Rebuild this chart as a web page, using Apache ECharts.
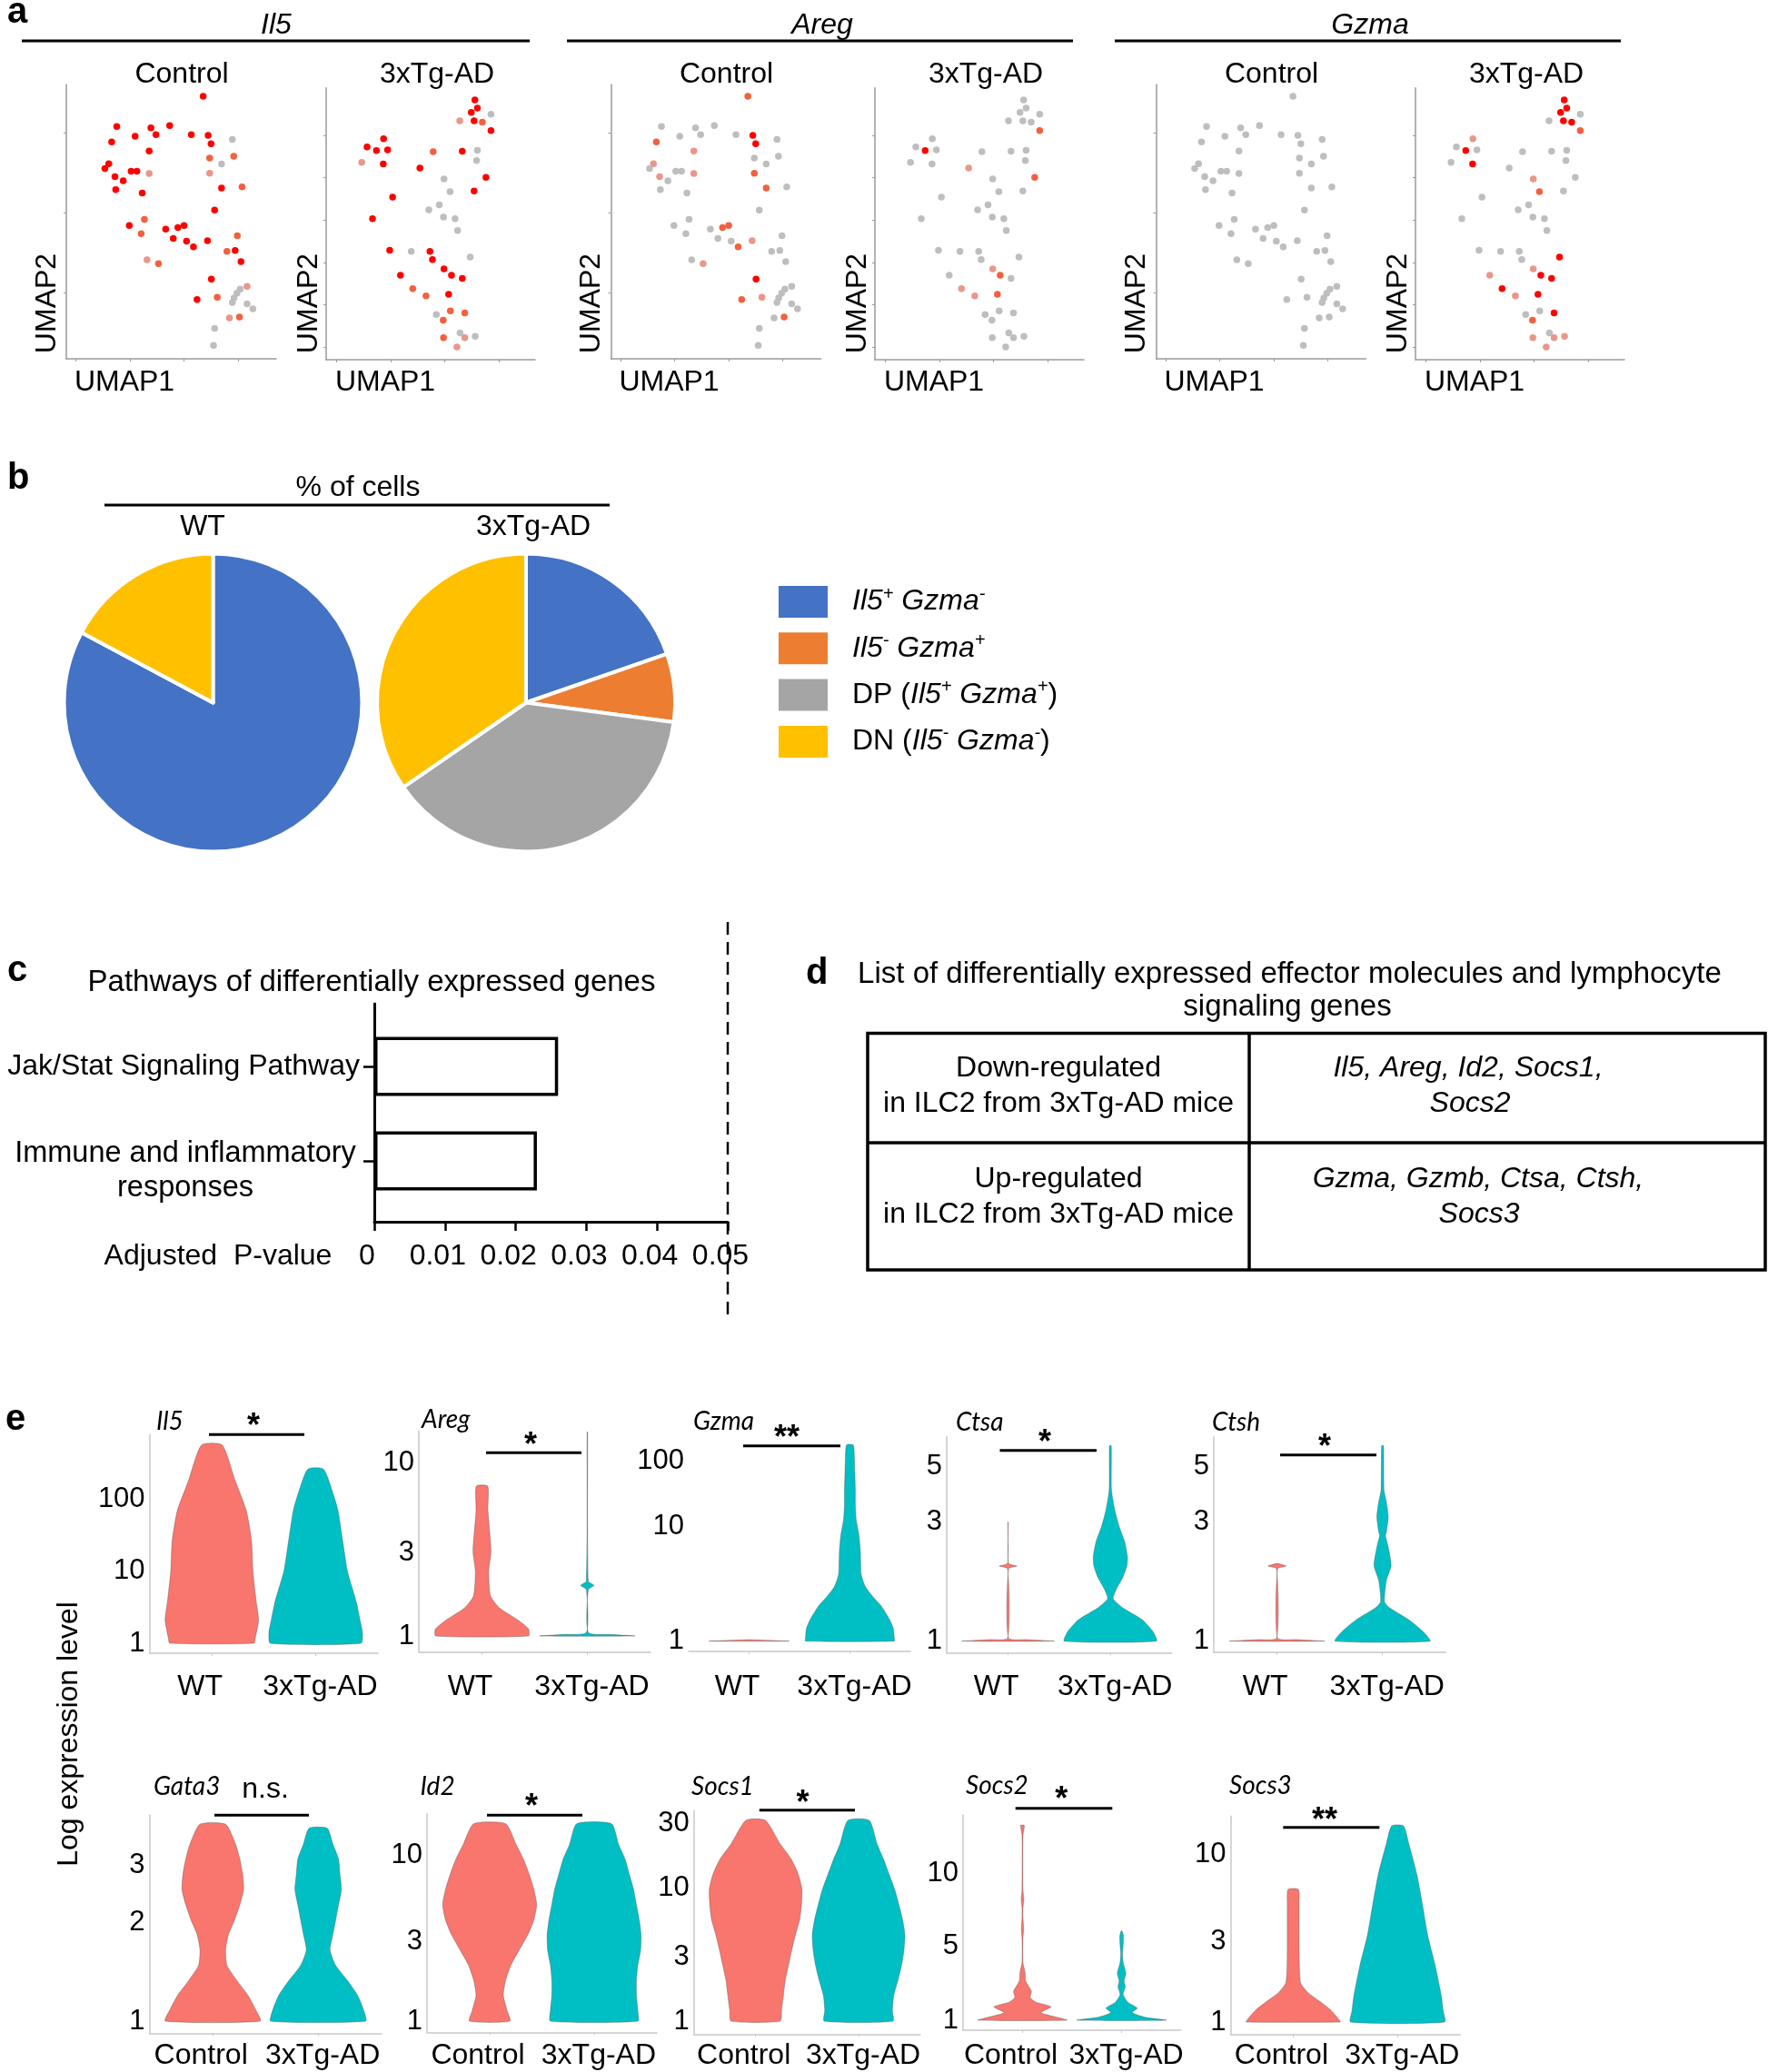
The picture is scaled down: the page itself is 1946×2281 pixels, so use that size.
<!DOCTYPE html>
<html>
<head>
<meta charset="utf-8">
<title>ILC2 figure</title>
<script src="https://cdn.jsdelivr.net/npm/echarts@6.0.0/dist/echarts.min.js"></script>
<style>
html,body{margin:0;padding:0;background:#ffffff;}
#chart{width:1946px;height:2281px;}
</style>
</head>
<body>
<div id="chart"></div>
<script>
// ======================= DATA =======================
// ---- Panel a: UMAP embeddings (same cells in every gene panel) ----
const ctrlUMAP1 = [6.77,-1.23,1.93,3.67,0.47,2.4,5.67,7.23,9.47,-1.7,7.5,1.77,7.37,9.6,8.47,-1.97,-2.33,0.1,0.63,1.77,7.37,-1.4,-0.63,-1.33,1.13,8.47,10.37,7.83,1.33,-0.07,3.3,4.43,5.0,1.03,9.93,4.0,5.23,5.87,7.17,8.97,9.73,10.27,1.57,2.63,7.53,6.2,8.07,10.83,10.2,9.9,9.63,9.47,10.83,11.37,9.2,10.13,7.83,7.73];
const ctrlUMAP2 = [12.26,10.38,10.30,10.43,9.77,9.87,9.87,9.83,9.58,9.42,9.30,8.85,8.42,8.53,8.04,8.06,7.77,7.60,7.60,7.45,7.47,7.25,7.0,6.45,6.23,6.55,6.62,5.17,4.6,4.21,3.98,4.08,4.21,3.70,3.57,3.40,3.23,2.89,3.26,2.60,2.66,1.96,2.08,1.83,0.87,-0.40,-0.26,0.42,0.25,0.0,-0.30,-0.58,-0.66,-0.98,-1.55,-1.49,-2.19,-3.25];
const adUMAP1 = [7.76,7.99,7.43,9.24,6.37,7.69,8.45,9.24,-0.63,-2.15,-1.29,-0.26,3.93,6.6,7.99,-2.64,-0.66,7.92,2.71,8.78,4.92,5.48,7.69,0.2,4.49,3.53,-1.65,4.88,5.94,6.17,-0.07,1.91,3.63,3.86,7.33,4.92,5.61,0.92,6.6,2.05,3.27,5.35,5.51,6.83,4.22,4.85,6.4,4.88,6.83,7.79,6.11];
const adUMAP2 = [14.18,13.21,12.71,12.5,11.71,11.71,11.57,10.57,9.61,8.64,8.21,8.29,8.07,8.14,8.25,6.82,6.64,7.04,6.14,5.04,4.86,3.36,3.43,2.71,1.82,1.21,0.18,0.36,0.18,-1.21,-3.54,-3.68,-3.68,-4.64,-4.36,-5.75,-6.5,-6.5,-6.86,-8.07,-8.93,-8.75,-10.71,-10.93,-11.14,-11.79,-13.29,-13.86,-13.86,-13.71,-14.96];
// expression class per cell: 0 none, 1 low, 2 mid, 3 high
const il5CtrlLevel  = [3,3,3,3,3,3,3,3,0,3, 3,3,2,2,0,3,3,3,3,1, 1,3,3,3,3,3,2,3,2,3, 3,3,3,2,2,3,3,3,3,2, 3,3,1,2,3,3,2,1,0,0, 0,0,0,0,1,2,0,0];
const il5ADLevel    = [3,3,3,0,1,3,2,3,3,3, 3,3,2,3,0,1,3,0,3,3, 0,0,3,3,0,0,3,0,0,0, 3,0,3,3,0,3,3,3,3,2, 2,3,2,2,0,2,0,2,1,0, 1];
const aregCtrlLevel = [2,0,0,0,0,0,0,3,0,2, 3,1,0,0,0,1,0,0,0,1, 2,1,0,0,0,2,0,0,0,0, 0,2,2,0,0,0,0,2,1,0, 0,0,0,1,3,2,1,0,0,0, 0,0,0,0,0,2,0,0];
const aregADLevel   = [0,0,0,0,0,0,0,2,0,0, 3,0,0,0,0,0,0,0,1,2, 0,0,0,0,0,0,0,0,0,0, 0,0,0,0,0,1,2,0,0,1, 1,2,0,0,0,0,0,0,0,0, 0];
const gzmaCtrlLevel = [0,0,0,0,0,0,0,0,0,0, 0,0,0,0,0,0,0,0,0,0, 0,0,0,0,0,0,0,0,0,0, 0,0,0,0,0,0,0,0,0,0, 0,0,0,0,0,0,0,0,0,0, 0,0,0,0,0,0,0,0];
const gzmaADLevel   = [3,3,3,0,0,3,3,2,1,0, 3,0,0,0,0,0,3,0,0,0, 1,2,0,0,0,0,0,0,0,0, 0,0,0,0,3,1,3,1,3,3, 1,3,0,3,0,2,0,1,1,1, 1];
const umapGenes = ['Il5', 'Areg', 'Gzma'];
const umapGroups = ['Control', '3xTg-AD'];
const umapXTicks = [-5, 0, 5, 10];
const umapCtrlYTicks = [0, 5, 10];
const umapADYTicks = [-15, -10, -5, 0, 5, 10];

// ---- Panel b: % of cells ----
const pieCategories = ['Il5+ Gzma-', 'Il5- Gzma+', 'DP (Il5+ Gzma+)', 'DN (Il5- Gzma-)'];
const pieGroups = ['WT', '3xTg-AD'];
const pieWT = [82.8, 0, 0, 17.2];
const pieAD = [19.7, 7.4, 38.3, 34.6];

// ---- Panel c: pathways ----
const pathways = ['Jak/Stat Signaling Pathway', 'Immune and inflammatory\nresponses'];
const adjPValues = [0.026, 0.023];
const pThreshold = 0.05;

// ---- Panel d: table ----
const tableRowLabels = [['Down-regulated', 'in ILC2 from 3xTg-AD mice'], ['Up-regulated', 'in ILC2 from 3xTg-AD mice']];
const tableGeneLists = [['Il5, Areg, Id2, Socs1,', 'Socs2'], ['Gzma, Gzmb, Ctsa, Ctsh,', 'Socs3']];

// ---- Panel e: violin plots ----
const violinGenes = ['Il5', 'Areg', 'Gzma', 'Ctsa', 'Ctsh', 'Gata3', 'Id2', 'Socs1', 'Socs2', 'Socs3'];
const violinSignif = ['*', '*', '**', '*', '*', 'n.s.', '*', '*', '*', '**'];
const violinGroupsRow1 = ['WT', '3xTg-AD'];
const violinGroupsRow2 = ['Control', '3xTg-AD'];
const violinYTicks = [[1,10,100],[1,3,10],[1,10,100],[1,3,5],[1,3,5],[1,2,3],[1,3,10],[1,3,10,30],[1,5,10],[1,3,10]];
// violin outlines: [expression value, relative half-width]
const il5WTProfile   = [[1,0.9],[1.18,0.93],[2.1,1.0],[3.75,0.95],[10,0.88],[26,0.85],[68,0.74],[178,0.5],[557,0.22]];
const il5ADProfile   = [[1,0.97],[1.43,1.0],[2.1,0.95],[3.75,0.87],[10,0.68],[26,0.58],[68,0.48],[110,0.39],[257,0.17]];
const aregWTProfile  = [[1,0.98],[1.1,0.98],[1.24,0.75],[1.45,0.37],[1.7,0.18],[2.35,0.14],[3.1,0.19],[5.3,0.125],[7.3,0.12]];
const aregADProfile  = [[1,1.0],[1.02,0.5],[1.05,0.02],[1.85,0.02],[1.96,0.14],[2.07,0.02],[15,0.005]];
const gzmaWTProfile  = [[1,0.88],[1.03,0.01]];
const gzmaADProfile  = [[1,0.98],[1.06,0.98],[1.28,0.96],[1.53,0.88],[1.84,0.76],[2.07,0.67],[2.48,0.49],[2.98,0.34],[3.79,0.25],[4.55,0.24],[6.15,0.23],[8.34,0.2],[12.4,0.14],[21.1,0.12],[36,0.12],[61.5,0.11],[104,0.1],[174,0.075]];
const ctsaWTProfile  = [[1,1.0],[1.015,0.4],[1.03,0.01],[1.95,0.01],[2.0,0.19],[2.05,0.01],[3.0,0.005]];
const ctsaADProfile  = [[1,1.0],[1.09,0.93],[1.22,0.69],[1.36,0.27],[1.48,0.06],[1.61,0.125],[1.8,0.27],[2.01,0.36],[2.19,0.37],[2.51,0.31],[2.89,0.19],[3.33,0.1],[4.05,0.025],[6.07,0.02]];
const ctshWTProfile  = [[1,1.0],[1.015,0.4],[1.03,0.01],[1.95,0.01],[2.0,0.19],[2.05,0.005]];
const ctshADProfile  = [[1,1.0],[1.09,0.86],[1.22,0.55],[1.36,0.15],[1.44,0.04],[1.75,0.08],[2.01,0.18],[2.38,0.12],[2.66,0.06],[2.73,0.08],[3.15,0.12],[3.62,0.08],[4.05,0.03],[6.07,0.02]];
const gata3CtrlProfile = [[1.0,1.0],[1.08,0.91],[1.2,0.74],[1.33,0.51],[1.48,0.3],[1.65,0.27],[1.84,0.33],[2.04,0.46],[2.27,0.57],[2.53,0.65],[2.81,0.63],[3.13,0.57],[3.48,0.48],[4.0,0.27]];
const gata3ADProfile   = [[1.0,1.0],[1.08,0.96],[1.2,0.83],[1.33,0.62],[1.48,0.37],[1.65,0.25],[1.84,0.31],[2.04,0.37],[2.27,0.43],[2.53,0.49],[2.81,0.46],[3.13,0.43],[3.48,0.31],[3.89,0.19]];
const id2CtrlProfile   = [[1.0,0.43],[1.16,0.37],[1.43,0.29],[1.76,0.34],[2.17,0.45],[2.68,0.63],[3.3,0.81],[4.07,0.94],[5.02,1.0],[6.2,0.94],[7.65,0.84],[9.42,0.72],[11.6,0.56],[15.4,0.34]];
const id2ADProfile     = [[1.0,0.93],[1.16,0.93],[1.43,0.9],[1.76,0.9],[2.17,0.93],[2.68,0.99],[3.3,1.0],[4.07,0.96],[5.02,0.9],[6.2,0.84],[7.65,0.75],[9.42,0.66],[11.6,0.52],[15.4,0.37]];
const socs1CtrlProfile = [[1.0,0.53],[1.2,0.56],[1.56,0.6],[2.02,0.64],[2.63,0.71],[3.41,0.78],[4.43,0.86],[5.75,0.95],[7.46,0.99],[9.69,1.0],[12.6,0.92],[16.3,0.77],[21.2,0.53],[31.9,0.21]];
const socs1ADProfile   = [[1.0,0.74],[1.2,0.73],[1.56,0.76],[2.02,0.85],[2.63,0.93],[3.41,0.98],[4.43,1.0],[5.75,0.95],[7.46,0.87],[9.69,0.78],[12.6,0.66],[16.3,0.54],[21.2,0.4],[31.9,0.23]];
const socs2CtrlProfile = [[1,1.0],[1.07,0.75],[1.18,0.41],[1.34,0.64],[1.48,0.3],[1.64,0.17],[1.87,0.2],[2.35,0.07],[2.86,0.055],[3.49,0.01],[5.38,0.01],[5.87,0.025],[6.58,0.01],[7.17,0.01],[7.82,0.03],[8.53,0.01],[14.3,0.01],[15.8,0.04]];
const socs2ADProfile   = [[1,1.0],[1.07,0.51],[1.18,0.24],[1.3,0.35],[1.48,0.14],[1.75,0.035],[2.06,0.08],[2.35,0.055],[2.77,0.096],[3.49,0.035],[4.25,0.02],[5.08,0.035],[5.53,0.04],[5.78,0.01]];
const socs3CtrlProfile = [[1.0,1.0],[1.03,0.98],[1.17,0.81],[1.33,0.56],[1.5,0.31],[1.7,0.16],[2.18,0.13],[3.3,0.125],[5.0,0.125],[6.15,0.11]];
const socs3ADProfile   = [[1.0,1.0],[1.17,0.97],[1.44,0.93],[2.18,0.8],[3.3,0.64],[5.0,0.53],[7.57,0.41],[11.5,0.24],[14.7,0.125]];

// ======================= STYLE / LAYOUT =======================
const FONT = "'Liberation Sans', Arial, Helvetica, sans-serif";
const GENE_FONT = "Lato, 'Open Sans', sans-serif";
const LEVEL_COLORS = ['#BEBEBE', '#E8978A', '#F3603F', '#FF0000'];
const PIE_COLORS = ['#4472C4', '#ED7D31', '#A5A5A5', '#FFC000'];
const SALMON = '#F8766D', TEAL = '#00BFC4';
const UMAP_AXIS = '#9A9A9A', VIOLIN_AXIS = '#C8C8C8';
const VIOLIN_HALF = 0.45;

const umapLayout = [
  [{left: 73, top: 93.3, width: 231, height: 301.7}, {left: 359, top: 96.7, width: 230, height: 299.3}],
  [{left: 672.5, top: 93.3, width: 231, height: 301.7}, {left: 963, top: 96.7, width: 230, height: 299.3}],
  [{left: 1272.5, top: 93.3, width: 231, height: 301.7}, {left: 1558, top: 96.7, width: 230, height: 299.3}]
];
const umapRange = [{x: [-5.9, 13.53], y: [-4.09, 12.98]}, {x: [-5.91, 13.3], y: [-16.46, 15.61]}];

// axis scale knots (log10 unless bent)
const violinScaleKnots = [null, null, [[1,0],[10,1],[100,1.568]], null, null, null, null, null, [[1,0],[5,0.699],[10,1.385]], null];
const violinLayout = [
  {l: 164.6, r: 416,    t: 1579,   b: 1820,   p1: 1809,   k: 79.5,  m: 21},
  {l: 461,   r: 716,    t: 1575,   b: 1819,   p1: 1801,   k: 191,   m: 22},
  {l: 758,   r: 1002,   t: 1580,   b: 1817.7, p1: 1806.7, k: 126.7, m: 23, noYLine: true},
  {l: 1042,  r: 1289.7, t: 1581.7, b: 1819.3, p1: 1806.7, k: 274.6, m: 22},
  {l: 1336,  r: 1591.4, t: 1581.7, b: 1819,   p1: 1806.7, k: 274.6, m: 22},
  {l: 164.6, r: 419.8,  t: 1998.3, b: 2238.3, p1: 2225,   k: 360,   m: 9},
  {l: 470,   r: 722.9,  t: 1996.7, b: 2237.3, p1: 2225,   k: 183,   m: 10},
  {l: 763.7, r: 1013,   t: 1993.3, b: 2239.3, p1: 2225,   k: 147,   m: 8},
  {l: 1060,  r: 1300,   t: 1998.3, b: 2235,   p1: 2224,   k: 116.7, m: 12},
  {l: 1354.5,r: 1607.2, t: 1999.3, b: 2240,   p1: 2226,   k: 185,   m: 7}
];
const geneNamePos = [[172,1565],[464,1563],[763,1565],[1052,1566],[1334,1566],[169,1967],[462.5,1967],[761,1967],[1063,1966],[1353,1966]];
const sigBarPos = [[230,335,1579.3],[535,640,1599.3],[818,925,1591.7],[1100.5,1207,1596.7],[1409,1515,1601.7],[236,340,1998.3],[536,641,1998.3],[835.8,941,1992.7],[1117.7,1224.3,1990.7],[1412.3,1518.3,2011.7]];
const sigTextPos = [[279,1571],[584,1592],[866,1584],[1150,1589],[1458,1594],[292,1970],[585,1990],[883.6,1986],[1168.3,1982],[1458,2005]];

const violinProfiles = [
  [il5WTProfile, il5ADProfile], [aregWTProfile, aregADProfile], [gzmaWTProfile, gzmaADProfile],
  [ctsaWTProfile, ctsaADProfile], [ctshWTProfile, ctshADProfile],
  [gata3CtrlProfile, gata3ADProfile], [id2CtrlProfile, id2ADProfile], [socs1CtrlProfile, socs1ADProfile],
  [socs2CtrlProfile, socs2ADProfile], [socs3CtrlProfile, socs3ADProfile]
];

function makeScale(knots) {
  const K = (knots || [[1, 0], [10, 1]]).map(function (p) { return [Math.log10(p[0]), p[1]]; });
  return function (v) {
    const L = Math.log10(v);
    let i = 0;
    while (i < K.length - 2 && L > K[i + 1][0]) i++;
    const a = K[i], b = K[i + 1];
    return a[1] + (L - a[0]) * (b[1] - a[1]) / (b[0] - a[0]);
  };
}

// ======================= BUILD =======================
const grids = [], xAxes = [], yAxes = [], series = [], gfx = [];

function txt(x, y, text, o) {
  o = o || {};
  const al = o.align || 'center';
  return {type: 'text', x: x, y: y, rotation: o.rot || 0, silent: true, z: 100,
    style: {text: text, fontSize: o.size || 32, fontFamily: o.family || FONT,
      fontStyle: o.italic ? 'italic' : 'normal', fontWeight: o.bold ? 'bold' : 'normal',
      fill: '#000', align: al, verticalAlign: 'middle', textAlign: al, textVerticalAlign: 'middle'}};
}
function seg(x1, y1, x2, y2, w, color) {
  return {type: 'line', silent: true, z: 100, shape: {x1: x1, y1: y1, x2: x2, y2: y2}, style: {stroke: color || '#000', lineWidth: w || 3}};
}

// ---- Panel a ----
const umapLevels = [[il5CtrlLevel, il5ADLevel], [aregCtrlLevel, aregADLevel], [gzmaCtrlLevel, gzmaADLevel]];
umapGenes.forEach(function (gene, g) {
  [0, 1].forEach(function (s) {
    const gi = grids.length;
    const lay = umapLayout[g][s], rng = umapRange[s];
    grids.push({left: lay.left, top: lay.top, width: lay.width, height: lay.height, containLabel: false, outerBoundsMode: 'none'});
    const axLine = {show: true, onZero: false, lineStyle: {color: UMAP_AXIS, width: 1.5}};
    xAxes.push({gridIndex: gi, type: 'value', min: rng.x[0], max: rng.x[1], axisLine: axLine,
      axisTick: {show: true, customValues: umapXTicks, length: 3, lineStyle: {color: UMAP_AXIS, width: 1}},
      axisLabel: {show: false}, splitLine: {show: false}});
    yAxes.push({gridIndex: gi, type: 'value', min: rng.y[0], max: rng.y[1], axisLine: axLine,
      axisTick: {show: true, customValues: s ? umapADYTicks : umapCtrlYTicks, length: 3, lineStyle: {color: UMAP_AXIS, width: 1}},
      axisLabel: {show: false}, splitLine: {show: false}});
    const xs = s ? adUMAP1 : ctrlUMAP1, ys = s ? adUMAP2 : ctrlUMAP2, lv = umapLevels[g][s];
    series.push({type: 'scatter', xAxisIndex: gi, yAxisIndex: gi, symbol: 'circle', symbolSize: 7.5, silent: true,
      data: xs.map(function (x, i) { return [x, ys[i], lv[i]]; }),
      itemStyle: {opacity: 1, color: function (p) { return LEVEL_COLORS[p.value[2]]; }}});
    // group title + axis names
    gfx.push(txt(lay.left + (s ? 122 : 127), 82, umapGroups[s]));
    gfx.push(txt(lay.left + (s ? -19 : -21), 334, 'UMAP2', {rot: Math.PI / 2}));
    gfx.push(txt(lay.left + (s ? 65 : 64), 421, 'UMAP1'));
  });
});
const umapHeadX = [304, 905, 1508];
const umapHeadLine = [[24, 583], [624, 1181], [1227, 1784]];
umapGenes.forEach(function (gene, g) {
  gfx.push(txt(umapHeadX[g], 28, gene, {italic: true, size: 32}));
  gfx.push(seg(umapHeadLine[g][0], 45, umapHeadLine[g][1], 45, 3));
});
gfx.push(txt(8, 13.5, 'a', {bold: true, size: 40, align: 'left'}));

// ---- Panel b ----
const pieCenters = [[234.5, 773.5], [579, 773.5]];
[pieWT, pieAD].forEach(function (vals, k) {
  series.push({type: 'pie', center: pieCenters[k], radius: 164, startAngle: 90, clockwise: true, silent: true,
    label: {show: false}, labelLine: {show: false}, itemStyle: {borderColor: '#fff', borderWidth: 4},
    data: pieCategories.map(function (n, i) { return {name: n, value: vals[i], itemStyle: {color: PIE_COLORS[i]}}; })});
  gfx.push(txt([223, 587][k], 580, pieGroups[k]));
});
gfx.push(txt(8, 526.5, 'b', {bold: true, size: 40, align: 'left'}));
gfx.push(txt(394, 537.5, '% of cells'));
gfx.push(seg(115, 556, 671, 556, 3));

const legendRich = {
  'Il5+ Gzma-': '{i|Il5}{s|+} {i|Gzma}{s|-}',
  'Il5- Gzma+': '{i|Il5}{s|-} {i|Gzma}{s|+}',
  'DP (Il5+ Gzma+)': '{n|DP (}{i|Il5}{s|+} {i|Gzma}{s|+}{n|)}',
  'DN (Il5- Gzma-)': '{n|DN (}{i|Il5}{s|-} {i|Gzma}{s|-}{n|)}'
};

// ---- Panel c ----
const gBar = grids.length;
grids.push({left: 412, top: 1122, width: 389, height: 208, containLabel: false, outerBoundsMode: 'none'});
xAxes.push({gridIndex: gBar, type: 'value', min: 0, max: 0.05, show: false});
yAxes.push({gridIndex: gBar, type: 'category', data: pathways, inverse: true,
  axisLine: {show: false},
  axisTick: {show: true, alignWithLabel: true, length: 12, lineStyle: {color: '#000', width: 2.5}},
  axisLabel: {color: '#000', fontSize: 32, fontFamily: FONT, margin: 16,
    formatter: function (v) {
      return v.indexOf('\n') >= 0 ? '{e| }\n' + v.split('\n').map(function (s) { return '{c|' + s + '}'; }).join('\n') : v;
    },
    rich: {c: {fontSize: 32.5, fontFamily: FONT, color: '#000', width: 384, align: 'center', lineHeight: 38},
           e: {fontSize: 2, lineHeight: 22, height: 22}}},
  splitLine: {show: false}});
series.push({type: 'bar', xAxisIndex: gBar, yAxisIndex: gBar, data: adjPValues, barWidth: 65, silent: true,
  itemStyle: {color: '#fff', borderColor: '#000', borderWidth: 3.5}});

const gFrame = grids.length;
grids.push({left: 412, top: 1105, width: 389, height: 240, containLabel: false, outerBoundsMode: 'none'});
xAxes.push({gridIndex: gFrame, type: 'value', min: 0, max: 0.05, interval: 0.01,
  axisLine: {show: true, onZero: false, lineStyle: {color: '#000', width: 3}},
  axisTick: {show: true, length: 10, lineStyle: {color: '#000', width: 2.5}},
  axisLabel: {color: '#000', fontSize: 32, fontFamily: FONT, margin: 22,
    formatter: function (v) { return '{p|' + (Math.abs(v) < 1e-9 ? '0' : (+v).toFixed(2)) + '}'; },
    rich: {p: {fontSize: 32, fontFamily: FONT, color: '#000', padding: [0, 16, 0, 0]}}},
  splitLine: {show: false}});
yAxes.push({gridIndex: gFrame, type: 'value', min: 0, max: 1,
  axisLine: {show: true, onZero: false, lineStyle: {color: '#000', width: 3}},
  axisTick: {show: false}, axisLabel: {show: false}, splitLine: {show: false}});
series.push({type: 'line', xAxisIndex: gFrame, yAxisIndex: gFrame, data: [], silent: true});

const gDash = grids.length;
grids.push({left: 412, top: 1009, width: 389, height: 438, containLabel: false, outerBoundsMode: 'none'});
xAxes.push({gridIndex: gDash, type: 'value', min: 0, max: 0.05, show: false});
yAxes.push({gridIndex: gDash, type: 'value', min: 0, max: 1, show: false});
series.push({type: 'line', xAxisIndex: gDash, yAxisIndex: gDash, data: [[pThreshold, 0], [pThreshold, 1]],
  symbol: 'none', showSymbol: false, silent: true, lineStyle: {color: '#000', width: 2.5, type: [14, 8]}});

gfx.push(txt(8, 1068.5, 'c', {bold: true, size: 40, align: 'left'}));
gfx.push(txt(409, 1081.5, 'Pathways of differentially expressed genes', {size: 33}));
gfx.push(txt(240, 1383, 'Adjusted  P-value'));

// ---- Panel d ----
gfx.push(txt(887, 1071.5, 'd', {bold: true, size: 40, align: 'left'}));
gfx.push(txt(1419.5, 1072.5, 'List of differentially expressed effector molecules and lymphocyte', {size: 33}));
gfx.push(txt(1417, 1109, 'signaling genes', {size: 33}));
gfx.push({type: 'rect', silent: true, z: 100, shape: {x: 955, y: 1137.5, width: 988, height: 260.5}, style: {fill: 'none', stroke: '#000', lineWidth: 3.5}});
gfx.push(seg(955, 1258, 1943, 1258, 3.5));
gfx.push(seg(1375, 1137.5, 1375, 1398, 3.5));
const tableLineY = [[1176.5, 1215.5], [1298, 1337]];
const tableRightX = [[1616, 1618], [1627, 1628]];
tableRowLabels.forEach(function (rows, r) {
  gfx.push(txt(1165, tableLineY[r][0], rows[0]));
  gfx.push(txt(1165, tableLineY[r][1], rows[1]));
  gfx.push(txt(tableRightX[r][0], tableLineY[r][0], tableGeneLists[r][0], {italic: true}));
  gfx.push(txt(tableRightX[r][1], tableLineY[r][1], tableGeneLists[r][1], {italic: true}));
});

// ---- Panel e ----
gfx.push(txt(6, 1562.5, 'e', {bold: true, size: 40, align: 'left'}));
gfx.push(txt(76, 1909, 'Log expression level', {rot: Math.PI / 2}));

violinGenes.forEach(function (gene, p) {
  const L = violinLayout[p];
  const T = makeScale(violinScaleKnots[p]);
  const ticks = violinYTicks[p];
  const groups = p < 5 ? violinGroupsRow1 : violinGroupsRow2;
  const gi = grids.length;
  grids.push({left: L.l, top: L.t, width: L.r - L.l, height: L.b - L.t, containLabel: false, outerBoundsMode: 'none'});
  xAxes.push({gridIndex: gi, type: 'value', min: -0.6, max: 1.6,
    axisLine: {show: true, onZero: false, lineStyle: {color: VIOLIN_AXIS, width: 1.5}},
    axisTick: {show: true, customValues: [0, 1], length: 3, lineStyle: {color: VIOLIN_AXIS, width: 1}},
    axisLabel: {show: true, customValues: [0, 1], margin: L.m, color: '#000', fontSize: 32, fontFamily: FONT,
      formatter: function (v) { return v < 0.5 ? '{a|' + groups[0] + '}' : '{b|' + groups[1] + '}'; },
      rich: {a: {fontSize: 32, fontFamily: FONT, color: '#000', padding: [0, 26, 0, 0]},
             b: {fontSize: 32, fontFamily: FONT, color: '#000', padding: [0, 0, 0, 10]}}},
    splitLine: {show: false}});
  yAxes.push({gridIndex: gi, type: 'value', min: (L.p1 - L.b) / L.k, max: (L.p1 - L.t) / L.k,
    axisLine: {show: !L.noYLine, onZero: false, lineStyle: {color: VIOLIN_AXIS, width: 1.5}},
    axisTick: {show: false},
    axisLabel: {show: true, customValues: ticks.map(T), margin: 5, color: '#000', fontSize: 31, fontFamily: FONT,
      formatter: function (t) {
        for (let i = 0; i < ticks.length; i++) { if (Math.abs(T(ticks[i]) - t) < 1e-6) return String(ticks[i]); }
        return '';
      }},
    splitLine: {show: false}});
  series.push({type: 'custom', xAxisIndex: gi, yAxisIndex: gi, silent: true, data: [[0, 0], [1, 0]],
    renderItem: function (params, api) {
      const g = api.value(0);
      const prof = violinProfiles[p][g].slice().sort(function (a, b) { return a[0] - b[0]; });
      const half = api.size([VIOLIN_HALF, 0])[0];
      const left = [], right = [];
      prof.forEach(function (pt) {
        const c = api.coord([g, T(pt[0])]);
        left.push([c[0] - pt[1] * half, c[1]]);
        right.push([c[0] + pt[1] * half, c[1]]);
      });
      return {type: 'polygon', shape: {points: left.concat(right.reverse()), smooth: 0.2},
        style: {fill: g ? TEAL : SALMON, stroke: 'rgba(80,80,80,0.55)', lineWidth: 0.7}};
    }});
  // annotations
  gfx.push(txt(geneNamePos[p][0], geneNamePos[p][1], gene, {italic: true, size: 28, family: GENE_FONT, align: 'left'}));
  gfx.push(seg(sigBarPos[p][0], sigBarPos[p][2], sigBarPos[p][1], sigBarPos[p][2], 3));
  const sig = violinSignif[p];
  if (sig === 'n.s.') gfx.push(txt(sigTextPos[p][0], sigTextPos[p][1], sig));
  else gfx.push(txt(sigTextPos[p][0], sigTextPos[p][1], sig, {bold: true, size: 36}));
});

// ======================= RENDER =======================
const chart = echarts.init(document.getElementById('chart'), null, {renderer: 'canvas', width: 1946, height: 2281});
chart.setOption({
  animation: false,
  backgroundColor: '#ffffff',
  textStyle: {fontFamily: FONT},
  grid: grids,
  xAxis: xAxes,
  yAxis: yAxes,
  legend: {
    show: true, orient: 'vertical', left: 855, top: 643, itemWidth: 56, itemHeight: 37, itemGap: 12.3,
    icon: 'rect', selectedMode: false, data: pieCategories, padding: 0,
    formatter: function (name) { return legendRich[name]; },
    textStyle: {fontSize: 32, color: '#000', fontFamily: FONT, padding: [0, 0, 0, 21], lineHeight: 37,
      rich: {
        i: {fontSize: 32, fontStyle: 'italic', fontFamily: FONT, color: '#000', lineHeight: 37},
        n: {fontSize: 32, fontFamily: FONT, color: '#000', lineHeight: 37},
        s: {fontSize: 20, fontStyle: 'italic', fontFamily: FONT, color: '#000', lineHeight: 20, verticalAlign: 'top'}
      }}
  },
  series: series,
  graphic: {elements: gfx}
});
</script>
</body>
</html>
